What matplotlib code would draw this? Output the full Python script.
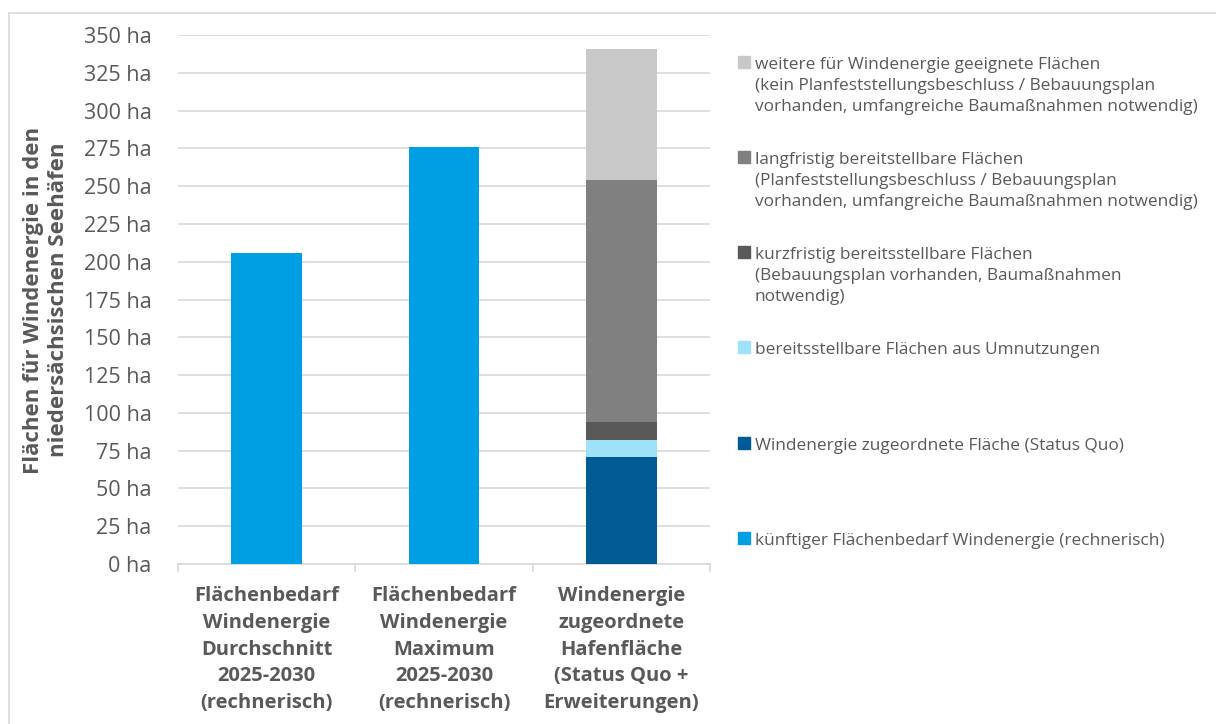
import numpy as np
import matplotlib.pyplot as plt
from matplotlib.patches import Rectangle
from matplotlib.ticker import FuncFormatter

plt.rcParams['font.family'] = ['Open Sans', 'DejaVu Sans']

categories = [
    "Flächenbedarf\nWindenergie\nDurchschnitt\n2025-2030\n(rechnerisch)",
    "Flächenbedarf\nWindenergie\nMaximum\n2025-2030\n(rechnerisch)",
    "Windenergie\nzugeordnete\nHafenfläche\n(Status Quo +\nErweiterungen)",
]

# Flächen in ha je Kategorie
bedarf = [206, 276, 0]
status_quo = [0, 0, 71]
umnutzung = [0, 0, 11]
kurzfristig = [0, 0, 12]
langfristig = [0, 0, 160]
weitere = [0, 0, 87]

series_labels = [
    "weitere für Windenergie geeignete Flächen\n(kein Planfeststellungsbeschluss / Bebauungsplan\nvorhanden, umfangreiche Baumaßnahmen notwendig)",
    "langfristig bereitstellbare Flächen\n(Planfeststellungsbeschluss / Bebauungsplan\nvorhanden, umfangreiche Baumaßnahmen notwendig)",
    "kurzfristig bereitsstellbare Flächen\n(Bebauungsplan vorhanden, Baumaßnahmen\nnotwendig)",
    "bereitsstellbare Flächen aus Umnutzungen",
    "Windenergie zugeordnete Fläche (Status Quo)",
    "künftiger Flächenbedarf Windenergie (rechnerisch)",
]
series_colors = ["#C8C8C8", "#808080", "#595959", "#A0E1FA", "#005A93", "#009FE3"]

text_col = "#595959"
grid_col = "#D9D9D9"

W, H = 1216, 724
fig = plt.figure(figsize=(W / 100, H / 100), dpi=100)
ax = fig.add_axes([178 / W, 1 - 564 / H, (710 - 178) / W, (564 - 35) / H])

x = np.arange(len(categories))
bw = 0.4
ax.bar(x, bedarf, bw, color=series_colors[5], zorder=3)
bottom = np.zeros(len(categories))
for vals, col in zip([status_quo, umnutzung, kurzfristig, langfristig, weitere],
                     [series_colors[4], series_colors[3], series_colors[2],
                      series_colors[1], series_colors[0]]):
    ax.bar(x, vals, bw, bottom=bottom, color=col, zorder=3)
    bottom += np.array(vals)

ax.set_xlim(-0.5, 2.5)
ax.set_ylim(0, 350)
ax.set_yticks(np.arange(0, 351, 25))
ax.yaxis.set_major_formatter(FuncFormatter(lambda v, p: f"{int(v)} ha"))
ax.yaxis.grid(True, color=grid_col, lw=1.2, zorder=0)
for s in ["top", "right", "left"]:
    ax.spines[s].set_visible(False)
ax.spines["bottom"].set_color(grid_col)
ax.spines["bottom"].set_linewidth(1.2)
ax.tick_params(axis="y", length=0, pad=19, labelsize=15.5, labelcolor=text_col)

ax.set_xticks(x)
ax.set_xticklabels(categories, fontsize=14.5, fontweight="bold", color=text_col,
                   linespacing=1.45)
ax.set_xticks([-0.5, 0.5, 1.5, 2.5], minor=True)
ax.tick_params(axis="x", which="major", length=0, pad=16)
ax.tick_params(axis="x", which="minor", length=6, color=grid_col, width=1.2)

fig.text(46 / W, 1 - 300 / H,
         "Flächen für Windenergie in den\nniedersächsischen Seehäfen",
         rotation=90, ha="center", va="center", multialignment="center",
         fontsize=16, fontweight="bold", color=text_col, linespacing=1.3)

# Legende rechts neben dem Diagramm
first_line_y = [62, 157, 252, 347, 443, 538]
for lab, col, yy in zip(series_labels, series_colors, first_line_y):
    fig.patches.append(Rectangle((738 / W, 1 - (yy + 6) / H), 12 / W, 12 / H,
                                 transform=fig.transFigure, color=col))
    fig.text(755 / W, 1 - (yy - 5) / H, lab, ha="left", va="top",
             fontsize=12.4, color=text_col, linespacing=1.43)

# Rahmen des Diagrammbereichs
fig.patches.append(Rectangle((8.5 / W, -0.05), 1.2, 1 + 0.05 - 12.5 / H,
                             transform=fig.transFigure, fill=False,
                             edgecolor=grid_col, lw=1.2))

fig.savefig("out.png", dpi=100)
